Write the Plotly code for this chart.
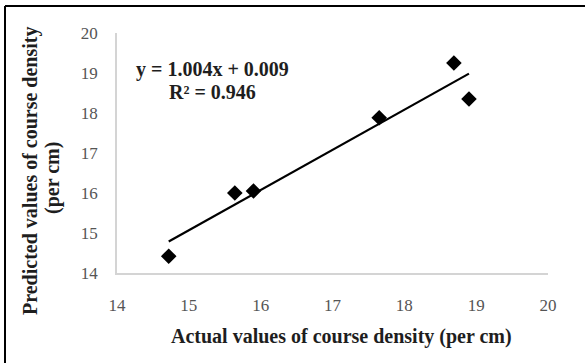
import plotly.graph_objects as go

# Observed vs. predicted course density (per cm)
actual = [14.72, 15.64, 15.90, 17.65, 18.69, 18.90]
predicted = [14.42, 16.00, 16.05, 17.88, 19.25, 18.35]

# Linear trendline as stated in the equation label
slope = 1.004
intercept = 0.009
r_squared = 0.946

x_ticks = [14, 15, 16, 17, 18, 19, 20]
y_ticks = [14, 15, 16, 17, 18, 19, 20]

W, H = 585, 363
ML, MR, MT, MB = 117, 37, 33, 90
PW, PH = W - ML - MR, H - MT - MB


def px_x(p):
    return (p - ML) / PW


def px_y(p):
    return (H - MB - p) / PH


serif = "Liberation Serif, Times New Roman, serif"
ink = "#1e1e1e"

trend_x = [min(actual), max(actual)]
trend_y = [slope * v + intercept for v in trend_x]

fig = go.Figure()
fig.add_trace(go.Scatter(
    x=trend_x, y=trend_y, mode="lines",
    line=dict(color="black", width=2.2), hoverinfo="skip", showlegend=False,
))
fig.add_trace(go.Scatter(
    x=actual, y=predicted, mode="markers",
    marker=dict(symbol="diamond", size=12, color="black"),
    showlegend=False,
))

axis_common = dict(
    showgrid=False, zeroline=False, showline=True,
    linecolor="#d4d4d4", linewidth=1.5, ticks="",
    tickfont=dict(family=serif, size=17, color="#555555"),
)
fig.update_xaxes(range=[14, 20], tickvals=x_ticks, ticklabelstandoff=16, **axis_common)
fig.update_yaxes(range=[14, 20], tickvals=y_ticks, ticklabelstandoff=14, **axis_common)


def label(text, x, y, size, angle=0, xanchor="center"):
    fig.add_annotation(
        xref="paper", yref="paper", x=px_x(x), y=px_y(y),
        xanchor=xanchor, yanchor="middle", textangle=angle,
        text=text, showarrow=False,
        font=dict(family=serif, size=size, color=ink),
    )


label("<b>Actual values of course density (per cm)</b>", 341, 336, 20)
label("<b>Predicted values of course density</b>", 30, 171, 20, angle=-90)
label("<b>(per cm)</b>", 52, 178, 20, angle=-90)
label(f"<b>y = {slope:.3f}x + {intercept:.3f}</b>", 134, 69, 20, xanchor="left")
label(f"<b>R² = {r_squared:.3f}</b>", 167, 92, 20, xanchor="left")

# Frame: top and left edges
fig.add_shape(type="line", xref="paper", yref="paper",
              x0=px_x(5), x1=px_x(W + 5), y0=px_y(6), y1=px_y(6),
              line=dict(color="black", width=2))
fig.add_shape(type="line", xref="paper", yref="paper",
              x0=px_x(5), x1=px_x(5), y0=px_y(6), y1=px_y(H + 5),
              line=dict(color="black", width=2))

fig.update_layout(
    width=W, height=H,
    margin=dict(l=ML, r=MR, t=MT, b=MB),
    paper_bgcolor="white", plot_bgcolor="white",
)

fig.write_html("out.html")
